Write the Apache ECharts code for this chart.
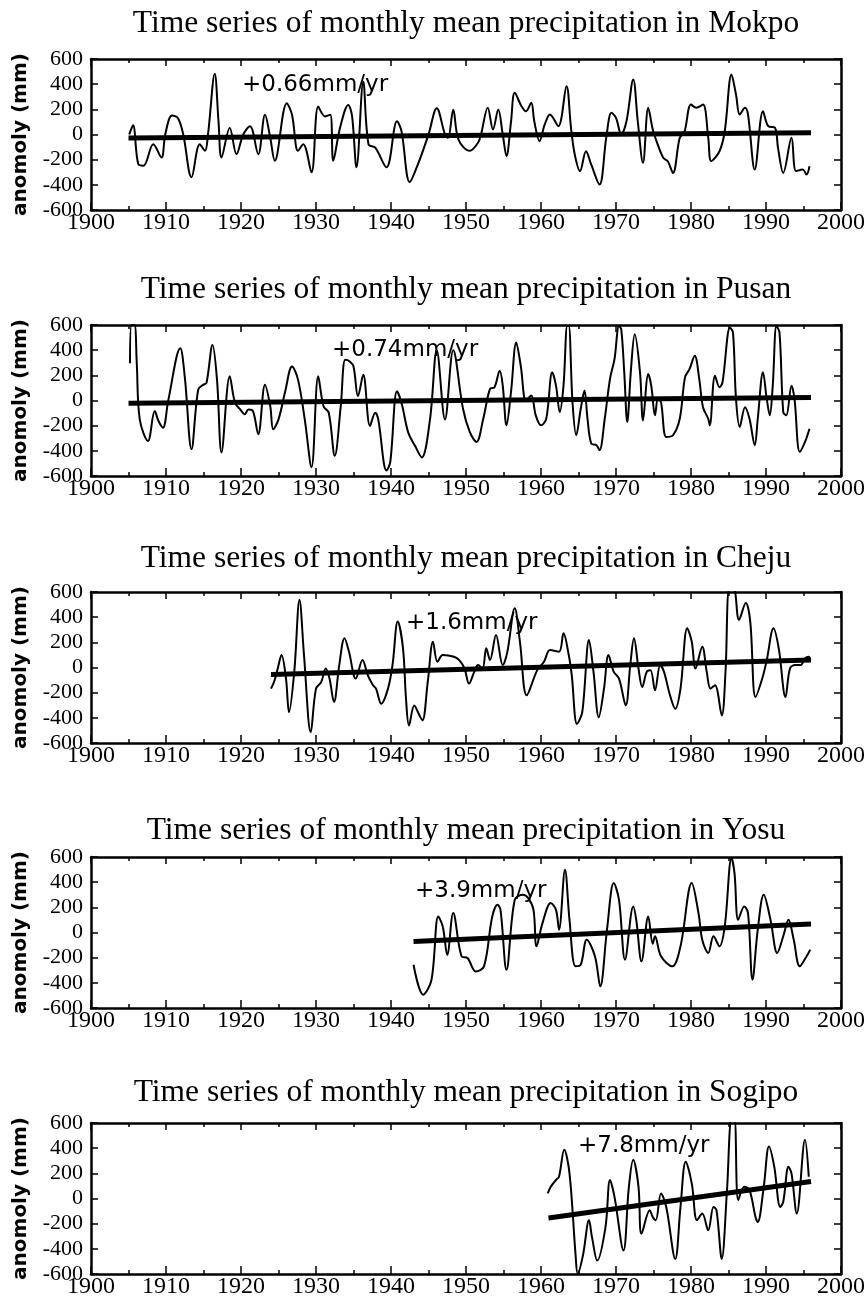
<!DOCTYPE html>
<html>
<head>
<meta charset="utf-8">
<title>Time series of monthly mean precipitation</title>
<script src="https://cdn.jsdelivr.net/npm/echarts@6.0.0/dist/echarts.min.js"></script>
<style>
html,body{margin:0;padding:0;background:#fff;}
#chart{width:866px;height:1306px;}
</style>
</head>
<body>
<div id="chart"></div>
<script>
var STATIONS = ["Mokpo", "Pusan", "Cheju", "Yosu", "Sogipo"];
var TREND_LABELS = ["+0.66mm/yr", "+0.74mm/yr", "+1.6mm/yr", "+3.9mm/yr", "+7.8mm/yr"];
var X_TICKS = [1900, 1910, 1920, 1930, 1940, 1950, 1960, 1970, 1980, 1990, 2000];
var Y_TICKS = [-600, -400, -200, 0, 200, 400, 600];

// smoothed anomaly curves
var mokpoYears = [1905.1, 1905.6, 1906.3, 1907.0, 1908.3, 1909.4, 1909.9, 1910.8, 1911.6, 1912.3, 1913.4, 1914.5, 1915.2, 1915.6, 1916.5, 1917.0, 1917.4, 1918.5, 1919.4, 1920.3, 1921.2, 1922.3, 1923.2, 1923.9, 1924.5, 1926.1, 1926.8, 1927.6, 1928.3, 1929.4, 1930.3, 1931.2, 1931.9, 1932.3, 1933.2, 1934.3, 1934.8, 1935.4, 1936.3, 1937.0, 1937.9, 1939.4, 1940.8, 1941.4, 1942.5, 1943.6, 1945.0, 1946.1, 1947.2, 1947.6, 1948.3, 1949.0, 1950.5, 1951.6, 1952.0, 1952.9, 1953.6, 1954.3, 1954.9, 1955.4, 1956.0, 1956.5, 1957.4, 1958.0, 1958.7, 1959.1, 1959.8, 1960.5, 1961.2, 1962.3, 1963.4, 1964.0, 1964.5, 1965.2, 1966.0, 1966.7, 1967.8, 1968.7, 1969.4, 1970.0, 1970.7, 1971.4, 1972.3, 1972.9, 1973.6, 1974.3, 1974.9, 1975.4, 1976.3, 1976.9, 1977.6, 1978.5, 1979.1, 1980.0, 1980.7, 1981.6, 1982.3, 1982.7, 1983.8, 1984.5, 1985.4, 1986.0, 1986.5, 1987.2, 1987.6, 1988.5, 1989.6, 1990.3, 1991.2, 1991.6, 1992.3, 1993.4, 1994.0, 1994.9, 1995.4, 1995.8];
var mokpoValues = [0, 73, -235, -248, -78, -183, 0, 151, 130, 0, -340, -78, -130, 0, 483, 104, -183, 52, -157, 0, 65, -157, 157, -26, -209, 248, 157, -130, -78, -300, 222, 144, 157, -209, 52, 235, 150, -261, 420, -78, -105, -261, 105, 26, -378, -235, 0, 209, 0, -26, 196, -40, -130, -66, 0, 212, 40, 199, 0, -172, 100, 331, 225, 185, 252, 106, -53, 80, 159, 66, 384, 53, -159, -291, -133, -240, -398, -26, 172, 132, 0, 106, 437, 106, -225, 212, 40, -53, -185, -212, -305, -26, 13, 238, 212, 238, -26, -212, -133, 26, 477, 318, 159, 212, 159, -278, 185, 66, 53, -106, -305, -26, -291, -278, -318, -252];

var pusanYears = [1905.2, 1905.4, 1905.8, 1906.1, 1906.5, 1907.6, 1908.5, 1909.0, 1909.6, 1910.3, 1911.9, 1912.5, 1913.4, 1914.3, 1915.0, 1915.4, 1916.2, 1916.8, 1917.4, 1918.5, 1919.2, 1919.9, 1920.5, 1921.0, 1921.6, 1922.3, 1923.2, 1923.9, 1924.3, 1925.0, 1925.9, 1926.8, 1927.6, 1928.5, 1929.4, 1930.3, 1931.0, 1931.7, 1932.5, 1933.3, 1933.9, 1934.5, 1935.0, 1935.6, 1936.3, 1937.2, 1937.9, 1938.3, 1939.4, 1939.9, 1940.8, 1941.4, 1942.3, 1943.2, 1944.1, 1945.2, 1946.1, 1947.2, 1948.3, 1949.6, 1950.5, 1951.4, 1952.3, 1953.2, 1953.8, 1954.5, 1954.9, 1955.4, 1956.0, 1956.7, 1957.3, 1958.0, 1958.7, 1959.3, 1960.0, 1960.7, 1961.5, 1962.0, 1962.5, 1963.0, 1963.5, 1963.7, 1964.2, 1964.7, 1965.3, 1965.8, 1966.2, 1966.7, 1967.4, 1967.8, 1968.5, 1969.2, 1969.8, 1970.4, 1970.7, 1971.1, 1971.5, 1972.0, 1972.5, 1973.2, 1973.6, 1974.3, 1974.7, 1975.2, 1975.6, 1976.0, 1976.7, 1977.6, 1978.5, 1979.2, 1979.8, 1980.5, 1981.1, 1981.6, 1982.3, 1982.5, 1983.2, 1983.8, 1984.2, 1985.2, 1985.6, 1986.0, 1986.5, 1987.2, 1987.8, 1988.5, 1988.9, 1989.6, 1990.1, 1990.5, 1990.9, 1991.4, 1991.8, 1992.3, 1992.7, 1993.4, 1993.8, 1994.5, 1995.2, 1995.8];
var pusanValues = [297, 600, 600, 300, -150, -321, -84, -163, -216, 0, 415, 190, -387, 87, 126, 140, 442, 166, -413, 192, -18, -71, -110, -71, -84, -268, 126, -45, -229, -150, 74, 271, 166, -150, -531, 192, -45, -97, -439, -45, 323, 310, 270, 34, 205, -202, -97, -150, -557, -490, 74, -18, -255, -360, -452, -150, 400, -150, 400, -66, -250, -329, -145, 92, 105, 237, 118, -197, 66, 460, 276, 0, 40, -118, -197, -145, 224, 118, -92, 118, 592, 592, -13, -276, -66, 79, -145, -342, -355, -395, -145, 171, 329, 592, 566, 224, -171, 250, 526, 224, -158, 210, 118, -118, 13, -13, -290, -276, -145, 184, 250, 355, 171, -53, -145, -197, 197, 105, 145, 579, 540, 13, -210, -53, -145, -355, -145, 224, 13, -118, 118, 592, 540, -92, -118, 118, 13, -408, -329, -224];

var chejuYears = [1924.0, 1924.4, 1924.9, 1925.4, 1926.0, 1926.4, 1927.1, 1927.8, 1928.4, 1929.3, 1930.0, 1930.7, 1931.3, 1931.8, 1932.4, 1933.1, 1933.8, 1934.4, 1935.3, 1936.2, 1936.9, 1937.6, 1938.0, 1938.7, 1939.6, 1940.2, 1940.9, 1941.6, 1942.0, 1942.4, 1943.1, 1943.8, 1944.2, 1944.9, 1945.6, 1946.2, 1946.9, 1948.4, 1949.1, 1949.8, 1950.4, 1951.1, 1951.6, 1952.2, 1952.7, 1953.2, 1954.0, 1954.9, 1955.5, 1956.5, 1957.2, 1958.1, 1959.5, 1960.4, 1961.2, 1962.4, 1963.0, 1963.7, 1964.1, 1964.8, 1965.5, 1966.4, 1967.0, 1967.7, 1968.4, 1969.0, 1969.7, 1970.4, 1971.3, 1971.9, 1972.4, 1973.0, 1973.5, 1974.1, 1974.6, 1975.2, 1975.9, 1976.4, 1977.2, 1977.9, 1978.6, 1979.5, 1980.1, 1980.6, 1981.5, 1982.1, 1982.6, 1983.2, 1984.1, 1984.6, 1985.1, 1985.7, 1986.4, 1987.3, 1987.9, 1988.6, 1989.5, 1990.1, 1991.0, 1991.7, 1992.6, 1993.2, 1993.9, 1994.6, 1995.2, 1995.7, 1995.9];
var chejuValues = [-168, -115, -8, 99, -88, -355, -35, 539, 99, -515, -168, -115, -8, -88, -275, 19, 232, 125, -88, 59, -61, -141, -168, -288, -168, 19, 365, 152, -248, -461, -301, -381, -421, -115, 205, 45, 99, 85, 59, -8, -128, -35, 19, -8, 152, 60, 259, 19, 120, 470, 200, -221, -21, 45, 139, 125, 272, 99, -61, -448, -355, 219, -35, -395, -168, 99, -35, -88, -301, 19, 232, -8, -155, -35, -21, -181, 19, -35, -221, -328, -168, 312, 205, -8, 165, -35, -168, -141, -381, -35, 620, 620, 379, 512, 365, -235, -88, 59, 312, 152, -235, -8, 19, 19, 72, 85, 59];

var yosuYears = [1943.0, 1944.3, 1945.4, 1946.3, 1946.9, 1947.5, 1948.3, 1949.4, 1950.2, 1951.3, 1952.4, 1953.5, 1954.2, 1954.6, 1955.4, 1956.5, 1957.6, 1958.3, 1959.0, 1959.4, 1960.2, 1961.3, 1962.0, 1962.4, 1963.2, 1963.8, 1964.6, 1965.3, 1966.1, 1967.2, 1967.9, 1968.8, 1969.7, 1970.4, 1971.2, 1972.3, 1972.7, 1973.4, 1974.3, 1974.9, 1975.2, 1976.0, 1977.5, 1978.6, 1980.1, 1981.0, 1981.5, 1982.3, 1983.0, 1983.8, 1984.5, 1985.4, 1985.8, 1986.3, 1987.1, 1987.6, 1988.2, 1988.9, 1989.7, 1990.6, 1991.5, 1992.3, 1993.0, 1993.7, 1994.5, 1995.4, 1995.9];
var yosuValues = [-256, -494, -375, 127, 48, -177, 155, -189, -203, -309, -269, 127, 220, 180, -296, 260, 300, 273, 180, -110, 75, 234, 180, 22, 499, 101, -269, -256, -58, -190, -428, 22, 393, 260, -216, 207, 101, -229, 127, -90, -30, -189, -269, -110, 393, 154, -58, -163, -30, -110, 48, 592, 472, 101, 207, 154, -375, 22, 300, 101, -163, -30, 101, -58, -269, -190, -136];

var sogipoYears = [1960.9, 1961.3, 1962.0, 1962.4, 1963.1, 1963.8, 1964.6, 1964.9, 1965.6, 1966.4, 1966.8, 1967.5, 1968.6, 1969.2, 1969.8, 1971.0, 1971.7, 1972.3, 1973.0, 1973.4, 1974.5, 1974.9, 1975.3, 1976.0, 1976.7, 1977.9, 1978.6, 1979.3, 1980.1, 1980.8, 1981.5, 1982.3, 1983.0, 1983.4, 1984.1, 1984.8, 1985.4, 1985.8, 1986.3, 1987.1, 1987.8, 1988.6, 1988.9, 1989.7, 1990.4, 1991.1, 1991.9, 1992.3, 1993.0, 1993.4, 1994.1, 1995.2, 1995.7];
var sogipoValues = [40, 93, 147, 173, 387, 200, -440, -600, -450, -173, -307, -493, -227, 147, 13, -413, 80, 307, 93, -280, -93, -147, -173, 40, -67, -480, -67, 293, 120, -173, -120, -253, -67, -93, -480, 67, 620, 620, -13, 93, 67, -147, -187, 93, 413, 253, -67, -27, 253, 200, -120, 467, 173];

// fitted linear trends: end points
var mokpoTrendYears = [1905, 1996], mokpoTrendValues = [-28, 14];
var pusanTrendYears = [1905, 1996], pusanTrendValues = [-22, 24];
var chejuTrendYears = [1924, 1996], chejuTrendValues = [-56, 59];
var yosuTrendYears = [1943, 1996], yosuTrendValues = [-72, 68];
var sogipoTrendYears = [1961, 1996], sogipoTrendValues = [-155, 135];

var curves = [
	[mokpoYears, mokpoValues],
	[pusanYears, pusanValues],
	[chejuYears, chejuValues],
	[yosuYears, yosuValues],
	[sogipoYears, sogipoValues]
];
var trends = [
	[mokpoTrendYears, mokpoTrendValues],
	[pusanTrendYears, pusanTrendValues],
	[chejuTrendYears, chejuTrendValues],
	[yosuTrendYears, yosuTrendValues],
	[sogipoTrendYears, sogipoTrendValues]
];

// layout
var GRID_TOPS = [59, 325, 592, 857, 1123];
var GRID_HEIGHT = 151;
var TITLE_Y = [24, 290, 559, 831, 1093];
var NOTE_POS = [[242, 85], [332, 350], [406, 623], [415, 891], [578, 1146]];
var SERIF = "'Liberation Serif', 'Times New Roman', serif";

function zip(xs, ys) {
	return xs.map(function(x, i) {
		return [x, ys[i]];
	});
}

var chart = echarts.init(document.getElementById("chart"), null, { renderer: "canvas" });
var option = {
	backgroundColor: "#fff",
	animation: false,
	grid: [],
	xAxis: [],
	yAxis: [],
	series: [],
	graphic: []
};

var boxLine = { show: true, onZero: false, lineStyle: { color: "#000", width: 2.5 } };
var tickStyle = { color: "#000", width: 1.5 };

for (var i = 0; i < STATIONS.length; i++) {
	option.grid.push({
		left: 91,
		right: 25,
		top: GRID_TOPS[i],
		height: GRID_HEIGHT,
		outerBoundsMode: "none",
		containLabel: false
	});
	// bottom x axis with labels
	option.xAxis.push({
		type: "value",
		gridIndex: i,
		position: "bottom",
		min: X_TICKS[0],
		max: X_TICKS[X_TICKS.length - 1],
		interval: 10,
		axisLine: boxLine,
		axisTick: { show: true, inside: true, length: 8, lineStyle: tickStyle },
		minorTick: { show: true, splitNumber: 2, length: 4, lineStyle: tickStyle },
		splitLine: { show: false },
		axisLabel: {
			show: true,
			margin: 1,
			color: "#000",
			fontFamily: SERIF,
			fontSize: 24,
			showMinLabel: true,
			showMaxLabel: true,
			hideOverlap: false,
			formatter: function(v) {
				return String(v);
			}
		}
	});
	// top x axis, ticks only
	option.xAxis.push({
		type: "value",
		gridIndex: i,
		position: "top",
		min: X_TICKS[0],
		max: X_TICKS[X_TICKS.length - 1],
		interval: 10,
		axisLine: boxLine,
		axisTick: { show: true, inside: true, length: 7, lineStyle: tickStyle },
		minorTick: { show: true, splitNumber: 2, length: 4, lineStyle: tickStyle },
		splitLine: { show: false },
		axisLabel: { show: false }
	});
	// left y axis with labels
	option.yAxis.push({
		type: "value",
		gridIndex: i,
		position: "left",
		min: Y_TICKS[0],
		max: Y_TICKS[Y_TICKS.length - 1],
		interval: 200,
		name: "anomoly (mm)",
		nameLocation: "middle",
		nameRotate: 90,
		nameGap: 60,
		nameTextStyle: {
			fontFamily: "'DejaVu Sans', sans-serif",
			fontWeight: "bold",
			fontSize: 20,
			color: "#000"
		},
		axisLine: boxLine,
		axisTick: { show: true, inside: true, length: 7, lineStyle: tickStyle },
		splitLine: { show: false },
		axisLabel: {
			show: true,
			margin: 8,
			color: "#000",
			fontFamily: SERIF,
			fontSize: 22,
			showMinLabel: true,
			showMaxLabel: true,
			hideOverlap: false
		}
	});
	// right y axis, ticks only
	option.yAxis.push({
		type: "value",
		gridIndex: i,
		position: "right",
		min: Y_TICKS[0],
		max: Y_TICKS[Y_TICKS.length - 1],
		interval: 200,
		axisLine: boxLine,
		axisTick: { show: true, inside: true, length: 7, lineStyle: tickStyle },
		splitLine: { show: false },
		axisLabel: { show: false }
	});

	option.series.push({
		type: "line",
		name: STATIONS[i],
		xAxisIndex: i * 2,
		yAxisIndex: i * 2,
		data: zip(curves[i][0], curves[i][1]),
		showSymbol: false,
		symbol: "none",
		smooth: 0.35,
		clip: true,
		lineStyle: { color: "#000", width: 2 },
		z: 2
	});
	option.series.push({
		type: "line",
		name: STATIONS[i] + " trend",
		xAxisIndex: i * 2,
		yAxisIndex: i * 2,
		data: zip(trends[i][0], trends[i][1]),
		showSymbol: false,
		symbol: "none",
		lineStyle: { color: "#000", width: 5, cap: "butt" },
		z: 3
	});

	option.graphic.push({
		type: "text",
		x: 466,
		y: TITLE_Y[i],
		style: {
			text: "Time series of monthly mean precipitation in " + STATIONS[i],
			fill: "#000",
			fontFamily: SERIF,
			fontSize: 31.5,
			align: "center",
			verticalAlign: "middle"
		}
	});
	option.graphic.push({
		type: "text",
		x: NOTE_POS[i][0],
		y: NOTE_POS[i][1],
		z: 10,
		style: {
			text: TREND_LABELS[i],
			fill: "#000",
			fontFamily: "'DejaVu Sans', sans-serif",
			fontSize: 23,
			align: "left",
			verticalAlign: "middle"
		}
	});
}

chart.setOption(option);
</script>
</body>
</html>
